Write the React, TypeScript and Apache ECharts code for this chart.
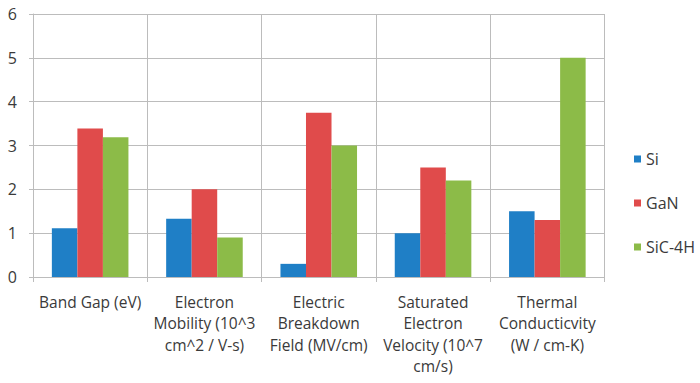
import React, { useEffect, useRef } from "react";
import * as echarts from "echarts";

const categories = [
  "Band Gap (eV)",
  "Electron\nMobility (10^3\ncm^2 / V-s)",
  "Electric\nBreakdown\nField (MV/cm)",
  "Saturated\nElectron\nVelocity (10^7\ncm/s)",
  "Thermal\nConducticvity\n(W / cm-K)",
];
const siValues = [1.11, 1.33, 0.3, 1.0, 1.5];
const ganValues = [3.39, 2.0, 3.75, 2.5, 1.3];
const sicValues = [3.19, 0.9, 3.0, 2.2, 5.0];
const seriesNames = ["Si", "GaN", "SiC-4H"];
const colors = ["#1f7fc6", "#e04b4b", "#8cbb48"];

const FONT = "'Open Sans', sans-serif";
const TEXT = "#3a3a3a";
const GRID = "#bcbcbc";

export default function App() {
  const ref = useRef<HTMLDivElement>(null);
  useEffect(() => {
    if (!ref.current) return;
    const chart = echarts.init(ref.current, undefined, { renderer: "svg" });
    chart.setOption({
      animation: false,
      backgroundColor: "#ffffff",
      color: colors,
      grid: { left: 33, top: 14, right: 95.5, bottom: 106 },
      legend: {
        orient: "vertical",
        left: 629,
        top: 146,
        itemWidth: 7,
        itemHeight: 7,
        itemGap: 28,
        icon: "rect",
        textStyle: { fontFamily: FONT, fontSize: 16, lineHeight: 16, color: TEXT },
        data: seriesNames,
      },
      xAxis: {
        type: "category",
        data: categories,
        axisLine: { show: true, lineStyle: { color: GRID, width: 1 } },
        axisTick: { show: true, length: 5, lineStyle: { color: GRID } },
        splitLine: { show: true, lineStyle: { color: GRID, width: 1 } },
        axisLabel: {
          interval: 0,
          margin: 14,
          fontFamily: FONT,
          fontSize: 15.5,
          lineHeight: 21.5,
          color: TEXT,
          align: "center",
          verticalAlign: "top",
        },
      },
      yAxis: {
        type: "value",
        min: 0,
        max: 6,
        interval: 1,
        axisLine: { show: true, lineStyle: { color: GRID, width: 1 } },
        axisTick: { show: true, length: 4, lineStyle: { color: GRID } },
        splitLine: { show: true, lineStyle: { color: GRID, width: 1 } },
        axisLabel: { margin: 16, fontFamily: FONT, fontSize: 16, color: TEXT },
      },
      series: [
        { name: seriesNames[0], type: "bar", data: siValues, barGap: "0%", barCategoryGap: "33%" },
        { name: seriesNames[1], type: "bar", data: ganValues, barGap: "0%", barCategoryGap: "33%" },
        { name: seriesNames[2], type: "bar", data: sicValues, barGap: "0%", barCategoryGap: "33%" },
      ],
    });
    return () => chart.dispose();
  }, []);
  return <div ref={ref} style={{ width: 700, height: 383, position: "fixed", left: 0, top: 0 }} />;
}
